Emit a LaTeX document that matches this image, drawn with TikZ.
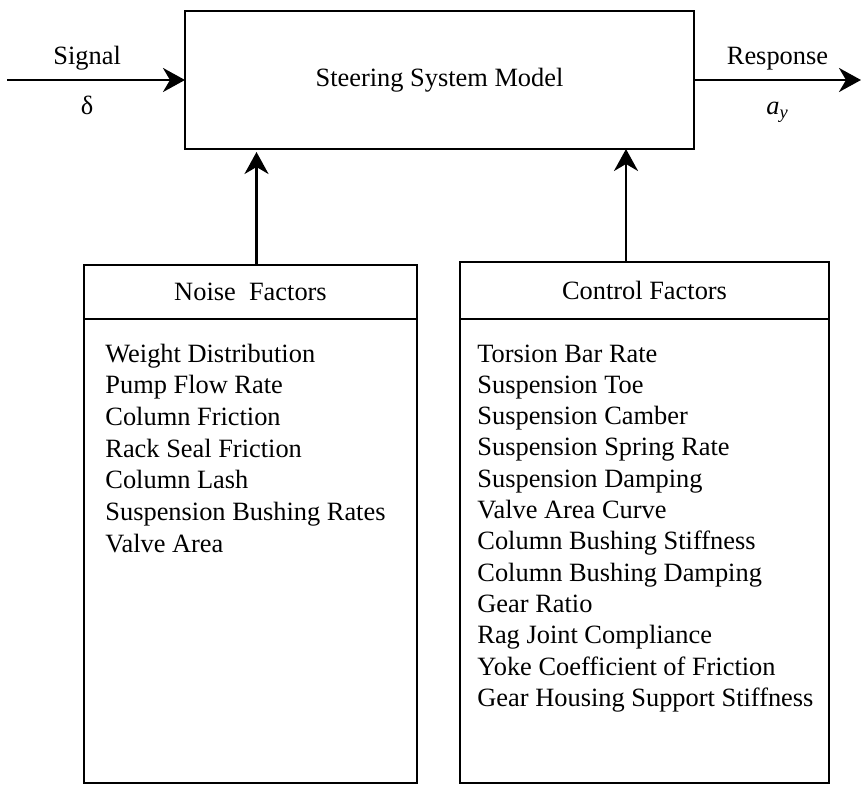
\documentclass[tikz,border=0pt]{standalone}
\usepackage{fontspec}
\setmainfont{Liberation Serif}
\usetikzlibrary{arrows.meta,positioning}

\tikzset{
  block/.style={draw, line width=1.4pt, inner sep=0pt, outer sep=0pt},
  thinblock/.style={block, line width=1pt},
  link/.style={line width=1.35pt, -{Stealth[length=11pt,width=12pt,inset=3.5pt]}},
  uplabel/.style={anchor=base, yshift=7.5pt},
  downlabel/.style={anchor=base, yshift=-17.5pt},
  factor/.style={anchor=base west, inner sep=0pt}
}

\begin{document}
\begin{tikzpicture}[x=0.5pt, y=-0.5pt, font=\fontsize{13.2}{16}\selectfont]
\useasboundingbox (0,0) rectangle (861,786);

% Model block
\node[block, minimum width=254.5pt, minimum height=69pt] (model) at (439.5,80) {Steering System Model};

% Input and output
\coordinate (sigin) at (7,80);
\coordinate (respout) at (861,80);
\draw[link] (sigin) -- node[pos=0.45, uplabel] (siglabel) {Signal}
                       node[pos=0.45, downlabel] (sigsym) {δ} (model.west);
\draw[link] (model.east) -- node[pos=0.5, uplabel] (resplabel) {Response}
                            node[pos=0.5, downlabel] (respsym) {\itshape a\textsubscript{y}} (respout);

% Noise factors: header strip and list
\node[block, minimum width=166.5pt, minimum height=27pt] (noisehead) at (250.5,292) {Noise\ \ Factors};
\node[block, minimum width=166.5pt, minimum height=232pt, anchor=north] (noisebody) at (noisehead.south) {};
\foreach \txt [count=\i] in {Weight Distribution, Pump Flow Rate, Column Friction,
    Rack Seal Friction, Column Lash, Suspension Bushing Rates, Valve Area}{
  \node[factor] (noise\i) at (105,{362+31.67*(\i-1)}) {\txt};
}

% Control factors: header strip and list
\node[thinblock, minimum width=184.5pt, minimum height=28.5pt] (ctrlhead) at (644.5,290.5) {Control Factors};
\node[thinblock, minimum width=184.5pt, minimum height=232pt, anchor=north] (ctrlbody) at (ctrlhead.south) {};
\foreach \txt [count=\i] in {Torsion Bar Rate, Suspension Toe, Suspension Camber,
    Suspension Spring Rate, Suspension Damping, Valve Area Curve,
    Column Bushing Stiffness, Column Bushing Damping, Gear Ratio,
    Rag Joint Compliance, Yoke Coefficient of Friction,
    Gear Housing Support Stiffness}{
  \node[factor] (ctrl\i) at (477,{362+31.3*(\i-1)}) {\txt};
}

% Factors acting on the model
\draw[link, shorten >=1.5pt] ([xshift=3pt]noisehead.north) -- ([xshift=3pt]noisehead.north |- model.south);
\draw[link] ([xshift=-9.25pt]ctrlhead.north) -- ([xshift=-9.25pt]ctrlhead.north |- model.south);
\end{tikzpicture}
\end{document}
